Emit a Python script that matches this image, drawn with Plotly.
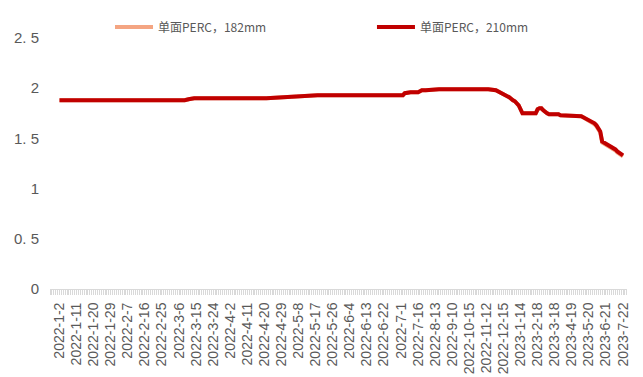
import datetime as dt
import plotly.graph_objects as go

# Axis labels: every ninth observation is labelled
tick_labels = [
    "2022-1-2", "2022-1-11", "2022-1-20", "2022-1-29", "2022-2-7", "2022-2-16",
    "2022-2-25", "2022-3-6", "2022-3-15", "2022-3-24", "2022-4-2", "2022-4-11",
    "2022-4-20", "2022-4-29", "2022-5-8", "2022-5-17", "2022-5-26", "2022-6-4",
    "2022-6-13", "2022-6-22", "2022-7-1", "2022-7-16", "2022-8-13", "2022-9-10",
    "2022-10-15", "2022-11-12", "2022-12-15", "2023-1-14", "2023-2-18", "2023-3-18",
    "2023-4-19", "2023-5-20", "2023-6-21", "2023-7-22",
]

# Price quotes (元/W) at the dates where the price moved
quote_dates = [
    "2022-1-2", "2022-3-9", "2022-3-11", "2022-3-14", "2022-4-21", "2022-4-30",
    "2022-5-9", "2022-5-18", "2022-7-3", "2022-7-4", "2022-7-9", "2022-7-16",
    "2022-7-22", "2022-7-28", "2022-8-19", "2022-11-16", "2022-11-30", "2022-12-8",
    "2022-12-15", "2022-12-22", "2022-12-25", "2023-1-1", "2023-1-4", "2023-1-11",
    "2023-1-14", "2023-1-18", "2023-2-14", "2023-2-18", "2023-2-21", "2023-2-24",
    "2023-2-27", "2023-3-2", "2023-3-6", "2023-3-9", "2023-3-25", "2023-3-29",
    "2023-4-12", "2023-4-15", "2023-5-6", "2023-5-10", "2023-5-13", "2023-5-17",
    "2023-5-20", "2023-5-24", "2023-5-27", "2023-5-31", "2023-6-3", "2023-6-7",
    "2023-6-10", "2023-6-14", "2023-6-17", "2023-6-21", "2023-6-24", "2023-6-28",
    "2023-7-1", "2023-7-5", "2023-7-8", "2023-7-12", "2023-7-15", "2023-7-19",
    "2023-7-22",
]

perc_210 = [
    1.88, 1.88, 1.89, 1.90, 1.90, 1.91,
    1.92, 1.93, 1.93, 1.95, 1.96, 1.96,
    1.98, 1.98, 1.99, 1.99, 1.98, 1.96,
    1.95, 1.92, 1.91, 1.88, 1.87, 1.83,
    1.79, 1.75, 1.75, 1.79, 1.80, 1.80,
    1.78, 1.76, 1.75, 1.74, 1.74, 1.73,
    1.73, 1.72, 1.72, 1.71, 1.70, 1.69,
    1.69, 1.68, 1.67, 1.65, 1.63, 1.60,
    1.57, 1.47, 1.46, 1.44, 1.43, 1.42,
    1.41, 1.40, 1.39, 1.37, 1.36, 1.35,
    1.33,
]

perc_182 = [
    1.88, 1.88, 1.89, 1.90, 1.90, 1.91,
    1.92, 1.93, 1.93, 1.95, 1.96, 1.96,
    1.98, 1.98, 1.99, 1.99, 1.98, 1.96,
    1.95, 1.92, 1.91, 1.88, 1.87, 1.83,
    1.79, 1.75, 1.75, 1.79, 1.80, 1.80,
    1.78, 1.76, 1.75, 1.74, 1.74, 1.73,
    1.73, 1.72, 1.72, 1.71, 1.70, 1.68,
    1.68, 1.67, 1.66, 1.64, 1.62, 1.59,
    1.56, 1.46, 1.45, 1.43, 1.42, 1.41,
    1.40, 1.39, 1.38, 1.36, 1.35, 1.34,
    1.32,
]

y_ticks = [0, 0.5, 1, 1.5, 2, 2.5]
y_tick_text = ["0", "0. 5", "1", "1. 5", "2", "2. 5"]


def parse(s):
    return dt.datetime.strptime(s, "%Y-%m-%d").date()


# Observation calendar: nine observations between consecutive labels
label_days = [parse(s) for s in tick_labels]
calendar = []
for a, b in zip(label_days[:-1], label_days[1:]):
    span = (b - a).days
    for j in range(9):
        calendar.append(a + dt.timedelta(days=round(span * j / 9)))
calendar.append(label_days[-1])
slot = {d: i for i, d in enumerate(calendar)}

x_quotes = [slot[parse(s)] for s in quote_dates]
x_ticks = [slot[d] for d in label_days]

grey_text = "#595959"
axis_grey = "#d9d9d9"
legend_font = dict(family="Noto Sans CJK SC", size=12, color=grey_text)

fig = go.Figure()
fig.add_trace(go.Scatter(
    x=x_quotes, y=perc_182, mode="lines", name="单面PERC，182mm",
    line=dict(color="#F4A582", width=4), legend="legend",
))
fig.add_trace(go.Scatter(
    x=x_quotes, y=perc_210, mode="lines", name="单面PERC，210mm",
    line=dict(color="#C00000", width=4), legend="legend2",
))

fig.update_layout(
    width=643, height=377,
    margin=dict(l=50, r=16, t=38, b=88, autoexpand=False),
    paper_bgcolor="white", plot_bgcolor="white",
    showlegend=True,
    legend=dict(
        orientation="h", x=0.104, xanchor="left", y=1.044, yanchor="middle",
        itemwidth=38, font=legend_font, bgcolor="rgba(0,0,0,0)",
    ),
    legend2=dict(
        orientation="h", x=0.558, xanchor="left", y=1.044, yanchor="middle",
        itemwidth=38, font=legend_font, bgcolor="rgba(0,0,0,0)",
    ),
)

fig.update_xaxes(
    range=[-5, 299.1], automargin=False,
    tickmode="array", tickvals=x_ticks, ticktext=tick_labels,
    tickangle=-90,
    tickfont=dict(family="Liberation Sans", size=14, color=grey_text),
    ticks="outside", ticklen=5, tickcolor=axis_grey, tickwidth=1,
    ticklabelstandoff=2,
    minor=dict(ticks="outside", dtick=1, tick0=0, ticklen=5,
               tickcolor=axis_grey, tickwidth=1, showgrid=False),
    showline=True, linecolor=axis_grey, linewidth=1,
    showgrid=False, zeroline=False,
)

fig.update_yaxes(
    range=[0, 2.5], automargin=False,
    tickmode="array", tickvals=y_ticks, ticktext=y_tick_text,
    tickfont=dict(family="Liberation Sans", size=15, color=grey_text),
    ticks="", ticklabelstandoff=10,
    showline=False, showgrid=False, zeroline=False,
)

fig.write_html("out.html")
